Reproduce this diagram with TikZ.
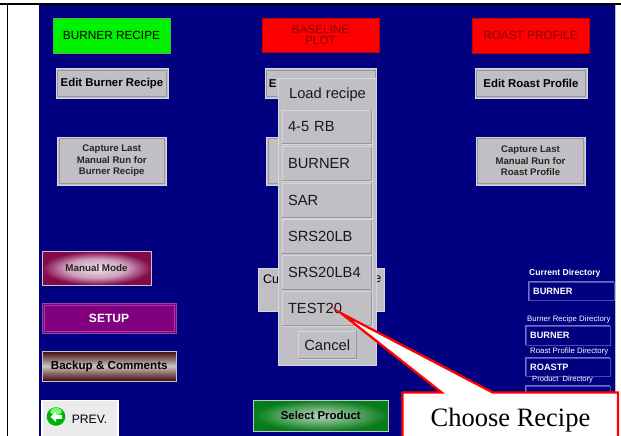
\documentclass[tikz,border=0pt]{standalone}
\usepackage{fontspec}
\setmainfont{Liberation Sans}
\newfontfamily\serifcall{Liberation Serif}
\definecolor{scrblue}{RGB}{0,0,128}
\definecolor{btngrey}{RGB}{192,192,196}
\definecolor{btnlight}{RGB}{214,214,220}
\definecolor{btndark}{RGB}{150,150,158}
\definecolor{setuppurple}{RGB}{128,0,128}
\definecolor{setupedge}{RGB}{158,64,158}
\definecolor{maroon}{RGB}{130,10,75}
\definecolor{pinkmid}{RGB}{240,225,235}
\definecolor{brownd}{RGB}{62,8,8}
\definecolor{brownl}{RGB}{205,195,195}
\definecolor{greenout}{RGB}{5,125,25}
\definecolor{greenin}{RGB}{185,210,185}
\definecolor{boxedge}{RGB}{105,115,205}
\definecolor{boxdim}{RGB}{70,78,170}
\definecolor{redtext}{RGB}{125,10,10}
\pgfdeclareradialshading{manualsh}{\pgfpoint{0bp}{0bp}}{color(0bp)=(pinkmid); color(14bp)=(pinkmid!70!maroon); color(25bp)=(maroon); color(50bp)=(maroon)}
\pgfdeclareradialshading{selectsh}{\pgfpoint{0bp}{0bp}}{color(0bp)=(greenin); color(10bp)=(greenin!65!greenout); color(25bp)=(greenout); color(50bp)=(greenout)}
\newcommand{\fs}[1]{\fontsize{#1}{#1}\selectfont}
% \btn[style]{name}{x1}{y1}{x2}{y2}{text}
\newcommand{\btn}[7][]{%
  \pgfmathsetmacro{\bw}{#5-#3}\pgfmathsetmacro{\bh}{#6-#4}%
  \node[box,#1,minimum width=\bw pt,minimum height=\bh pt] (#2) at ({(#3+#5)/2},{(#4+#6)/2}) {#7};}
\tikzset{
  box/.style={draw,inner sep=0pt,align=center,line width=0.8pt,text=black},
  flatgreen/.style={fill=green!95!black,draw=green!60!black!70!white,font=\fs{11.8}},
  flatred/.style={fill=red,draw=red!75!black,text=redtext,font=\fs{11.8}},
  greybtn/.style={fill=btngrey,draw=btnlight,line width=1pt},
  editbtn/.style={greybtn,font=\bfseries\fs{11.4}},
  capbtn/.style={greybtn,font=\bfseries\fontsize{9.6}{11.5}\selectfont,text=black!85},
  dlg/.style={fill=btngrey,draw=btnlight,line width=1pt},
  item/.style={fill=btngrey,draw=btnlight,line width=1pt,font=\fs{14.7},text=black!90},
  listitem/.style={item,align=left,text width=78pt,inner xsep=6pt},
  inner edge/.style={draw=btndark,line width=0.6pt},
  dirlabel/.style={text=white,inner sep=0pt,anchor=west},
  dirbox/.style={draw=boxdim,line width=0.9pt,fill=scrblue},
  dirtext/.style={text=white,inner sep=0pt,anchor=west,font=\bfseries\fs{9.2}},
  calloutline/.style={draw=red,line width=2.3pt,fill=white,line join=miter,miter limit=20},
}
\begin{document}
\begin{tikzpicture}[x=1pt,y=-1pt]
\useasboundingbox (0,0) rectangle (621,436);
\clip (0,0) rectangle (621,436);
\fill[white] (0,0) rectangle (621,436);
\fill[scrblue] (38.5,5) rectangle (615,436);
\fill[black!25] (615,5) rectangle (616,436);
\fill[black] (0,3.2) rectangle (621,5);
\fill[black] (7,3.2) rectangle (8.4,436);

\btn[flatgreen]{burner}{53}{18}{170}{53}{BURNER RECIPE}
\btn[flatred]{baseline}{262}{18}{379}{52}{BASELINE\\PLOT}
\btn[flatred]{roast}{472}{18}{589}{53}{ROAST PROFILE}

\btn[editbtn]{editb}{56}{69}{168}{98}{Edit Burner Recipe}
\btn[editbtn]{editm}{265}{69}{376.5}{98}{\hspace*{-96pt}E}
\btn[editbtn]{editr}{475}{69}{587}{98}{Edit Roast Profile}
\foreach \n in {editb,editm,editr}{\draw[inner edge] ([shift={(2,2)}]\n.north west) rectangle ([shift={(-2,-2)}]\n.south east);}

\btn[capbtn]{capb}{57.5}{137}{166}{185}{Capture Last\\Manual Run for\\Burner Recipe}
\btn[capbtn]{capm}{266.5}{137}{375}{185}{}
\btn[capbtn]{capr}{476}{137}{585}{185}{Capture Last\\Manual Run for\\Roast Profile}
\foreach \n in {capb,capm,capr}{\draw[inner edge] ([shift={(2,2)}]\n.north west) rectangle ([shift={(-2,-2)}]\n.south east);}

\btn[greybtn,font=\fs{13}]{curdir}{258}{268}{384}{311}{}
\node[inner sep=0pt,anchor=west,font=\fs{12.5}] (culabel) at (263,279) {Cu};
\node[inner sep=0pt,anchor=east,font=\fs{12.5}] (elabel) at (381.5,279) {e};

\btn[dlg]{dialog}{278.5}{78.5}{376}{365}{}
\node[inner sep=0pt,font=\fs{14.7},text=black!90] (loadtitle) at (327.5,94.5) {Load recipe};
\btn[listitem]{ia}{282}{110}{372}{144}{4-5 RB}
\btn[listitem]{ib}{282}{146.5}{372}{181}{BURNER}
\btn[listitem]{ic}{282}{183}{372}{218}{SAR}
\btn[listitem]{id}{282}{219.5}{372}{253.5}{SRS20LB}
\btn[listitem]{ie}{282}{255.5}{372}{289.5}{SRS20LB4}
\btn[listitem]{if}{282}{291}{372}{326}{TEST20}
\btn[item]{ig}{298}{331}{356.5}{359}{Cancel}
\foreach \n in {ia,ib,ic,id,ie,if,ig}{\draw[draw=btndark,line width=0.8pt] ([shift={(-0.8,0.8)}]\n.north east) -- ([shift={(-0.8,-0.8)}]\n.south east) -- ([shift={(0.8,-0.8)}]\n.south west);}

\btn[draw=btnlight!80!gray,line width=1pt,shading=manualsh,font=\bfseries\fs{9.8},text=black!85]{manual}{42}{251.5}{151}{285}{Manual Mode}
\btn[fill=setuppurple,draw=setupedge,line width=0.8pt,text=white,font=\bfseries\fs{12}]{setup}{42}{303}{176}{333}{SETUP}
\draw[setupedge,line width=0.6pt] ([shift={(2.5,2.5)}]setup.north west) rectangle ([shift={(-2.5,-2.5)}]setup.south east);
\btn[draw=btnlight!80!gray,line width=1pt,top color=brownd,bottom color=brownd,middle color=brownl,font=\bfseries\fs{11.6}]{backup}{42}{351}{176.5}{381}{Backup \& Comments}
\btn[fill=black!8,draw=white,line width=1.5pt,font=\fs{12.2}]{prev}{42}{400.5}{118}{438}{\hspace*{19pt}PREV.}
\fill[green!70!black] (56,416.5) circle (9.3);
\fill[green!55!white] (56,411.5) ellipse (6 and 3.5);
\fill[white] (62,414.8) -- (56,414.8) -- (56,411.5) -- (50.5,416.8) -- (56,422) -- (56,418.8) -- (62,418.8) -- cycle;
\btn[draw=btnlight!80!gray,line width=1pt,shading=selectsh,font=\bfseries\fs{11.4}]{select}{253.5}{400}{388}{431}{Select Product}

\node[dirlabel,font=\bfseries\fs{8.6}] (cd) at (529,273) {Current Directory};
\btn[dirbox]{cdbox}{529}{282}{614}{300.5}{}
\node[dirtext] (cdval) at (533,291.5) {BURNER};
\node[dirlabel,font=\fs{7.8}] (brd) at (527,319.5) {Burner Recipe Directory};
\btn[dirbox]{brbox}{526}{326}{610}{345}{}
\node[dirtext] (brval) at (530,335.5) {BURNER};
\node[dirlabel,font=\fs{7.8}] (rpd) at (530,351.5) {Roast Profile Directory};
\btn[dirbox]{rpbox}{526}{358}{610}{376}{}
\node[dirtext] (rpval) at (530,367.5) {ROASTP};
\node[dirlabel,font=\fs{7.6}] (pd) at (532,379.5) {Product\ \ Directory};
\btn[dirbox]{pdbox}{526}{386}{610}{420}{}
\foreach \n in {cdbox,brbox,rpbox,pdbox}{\draw[boxedge,line width=0.9pt] (\n.south west) -- (\n.north west) -- (\n.north east);}

\draw[calloutline] (402.5,392.5) -- (441.7,392.5) -- (341.5,313.5) -- (492.7,392.5) -- (618,392.5) -- (618,445) -- (402.5,445) -- cycle;
\node[inner sep=0pt,font=\serifcall\fs{26.5}] (choose) at (510.5,420) {Choose Recipe};
\end{tikzpicture}
\end{document}
